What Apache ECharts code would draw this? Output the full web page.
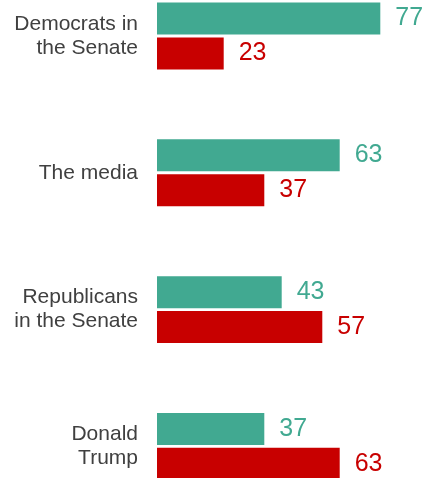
<!DOCTYPE html>
<html>
<head>
<meta charset="utf-8">
<script src="https://cdn.jsdelivr.net/npm/echarts@6/dist/echarts.min.js"></script>
<style>
html,body{margin:0;padding:0;background:#fff;}
#chart{width:423px;height:478px;}
</style>
</head>
<body>
<div id="chart"></div>
<script>
var categories = ['Democrats in\nthe Senate', 'The media', 'Republicans\nin the Senate', 'Donald\nTrump'];
var greenValues = [77, 63, 43, 37];
var redValues = [23, 37, 57, 63];

var GREEN = '#41a991';
var RED = '#c80000';
var FONT = '"Liberation Sans", Arial, sans-serif';

var chart = echarts.init(document.getElementById('chart'), null, {renderer: 'canvas'});
chart.setOption({
  animation: false,
  backgroundColor: '#fff',
  grid: {
    left: 157,
    top: -32.4,
    width: 290,
    height: 547.2,
    containLabel: false,
    outerBoundsMode: 'none'
  },
  xAxis: {
    type: 'value',
    min: 0,
    max: 100,
    show: false
  },
  yAxis: {
    type: 'category',
    data: categories,
    inverse: true,
    axisLine: {show: false},
    axisTick: {show: false},
    splitLine: {show: false},
    axisLabel: {
      margin: 19,
      color: '#404040',
      fontSize: 21,
      lineHeight: 24,
      fontFamily: FONT,
      align: 'right'
    }
  },
  series: [
    {
      type: 'bar',
      data: greenValues,
      barWidth: 32,
      barGap: '9%',
      itemStyle: {color: GREEN},
      label: {
        show: true,
        position: 'right',
        distance: 15,
        color: GREEN,
        fontSize: 25,
        fontFamily: FONT
      }
    },
    {
      type: 'bar',
      data: redValues,
      barWidth: 32,
      barGap: '9%',
      itemStyle: {color: RED},
      label: {
        show: true,
        position: 'right',
        distance: 15,
        color: RED,
        fontSize: 25,
        fontFamily: FONT
      }
    }
  ]
});
</script>
</body>
</html>
